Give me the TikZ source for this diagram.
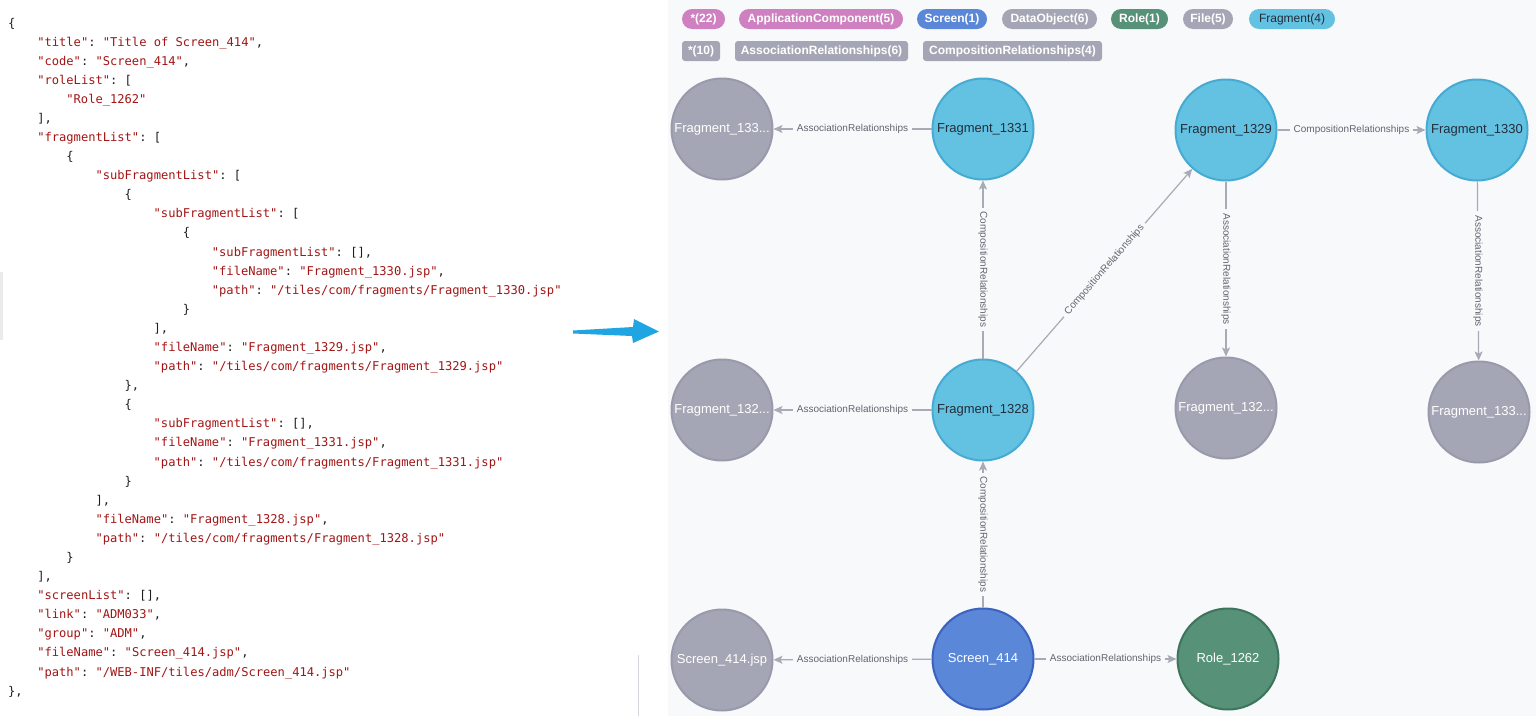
\documentclass[tikz,border=0pt]{standalone}
\usepackage{fontspec}
\setmainfont{Liberation Sans}
\setmonofont{DejaVu Sans Mono}
\usetikzlibrary{arrows.meta}

\definecolor{panelbg}{RGB}{248,249,251}
\definecolor{jsonred}{RGB}{163,21,21}
\definecolor{jsonpunct}{RGB}{30,30,30}
\definecolor{fragfill}{RGB}{99,194,226}
\definecolor{fragline}{RGB}{70,170,210}
\definecolor{fragtext}{RGB}{35,45,58}
\definecolor{filefill}{RGB}{165,166,181}
\definecolor{fileline}{RGB}{152,153,170}
\definecolor{scrfill}{RGB}{90,135,216}
\definecolor{scrline}{RGB}{58,98,190}
\definecolor{rolefill}{RGB}{87,145,120}
\definecolor{roleline}{RGB}{62,116,93}
\definecolor{pinkc}{RGB}{206,128,192}
\definecolor{edgec}{RGB}{168,170,182}
\definecolor{labelc}{RGB}{100,100,112}
\definecolor{bluearrow}{RGB}{30,165,226}
\definecolor{sepc}{RGB}{214,214,220}

\newcommand\rd[1]{\textcolor{jsonred}{#1}}
% one line of the JSON listing: indent level, line number, content
\newcommand\jline[3]{\node[jtext] (j#2) at ({8+29.1*#1},{27+19.09*(#2-1)}) {#3};}

\begin{document}
\begin{tikzpicture}[x=1pt,y=-1pt,
  jtext/.style={anchor=base west, inner sep=0, text=jsonpunct,
    font=\ttfamily\fontsize{12.1}{14}\selectfont},
  pill/.style={rectangle, rounded corners=10, minimum height=20, inner sep=0,
    text=white, font=\bfseries\fontsize{12}{14}\selectfont},
  tag/.style={rectangle, rounded corners=3, minimum height=20, inner sep=0,
    fill=filefill, text=white, font=\bfseries\fontsize{12}{14}\selectfont},
  gnode/.style={circle, minimum size=101, inner sep=0, line width=2,
    font=\fontsize{13}{15}\selectfont},
  frag/.style={gnode, fill=fragfill, draw=fragline, text=fragtext},
  filen/.style={gnode, fill=filefill, draw=fileline, text=white},
  scrn/.style={gnode, fill=scrfill, draw=scrline, text=white},
  rolen/.style={gnode, fill=rolefill, draw=roleline, text=white},
  edge/.style={draw=edgec, line width=1.2, -{Stealth[length=9pt,width=8pt,inset=2pt]}},
  elabel/.style={fill=panelbg, text=labelc, inner xsep=4, inner ysep=1,
    font=\fontsize{10}{12}\selectfont}
]
\useasboundingbox (0,0) rectangle (1540,718);
\fill[white] (0,0) rectangle (1540,718);
\fill[black!8] (0,272) rectangle (3,340);
\fill[panelbg] (668,0) rectangle (1536,716);
\draw[sepc, line width=1] (638,655) -- (638,716);

% JSON listing
\jline{0}{1}{\{}
\jline{1}{2}{\rd{"title"}: \rd{"Title of Screen\_414"},}
\jline{1}{3}{\rd{"code"}: \rd{"Screen\_414"},}
\jline{1}{4}{\rd{"roleList"}: [}
\jline{2}{5}{\rd{"Role\_1262"}}
\jline{1}{6}{],}
\jline{1}{7}{\rd{"fragmentList"}: [}
\jline{2}{8}{\{}
\jline{3}{9}{\rd{"subFragmentList"}: [}
\jline{4}{10}{\{}
\jline{5}{11}{\rd{"subFragmentList"}: [}
\jline{6}{12}{\{}
\jline{7}{13}{\rd{"subFragmentList"}: [],}
\jline{7}{14}{\rd{"fileName"}: \rd{"Fragment\_1330.jsp"},}
\jline{7}{15}{\rd{"path"}: \rd{"/tiles/com/fragments/Fragment\_1330.jsp"}}
\jline{6}{16}{\}}
\jline{5}{17}{],}
\jline{5}{18}{\rd{"fileName"}: \rd{"Fragment\_1329.jsp"},}
\jline{5}{19}{\rd{"path"}: \rd{"/tiles/com/fragments/Fragment\_1329.jsp"}}
\jline{4}{20}{\},}
\jline{4}{21}{\{}
\jline{5}{22}{\rd{"subFragmentList"}: [],}
\jline{5}{23}{\rd{"fileName"}: \rd{"Fragment\_1331.jsp"},}
\jline{5}{24}{\rd{"path"}: \rd{"/tiles/com/fragments/Fragment\_1331.jsp"}}
\jline{4}{25}{\}}
\jline{3}{26}{],}
\jline{3}{27}{\rd{"fileName"}: \rd{"Fragment\_1328.jsp"},}
\jline{3}{28}{\rd{"path"}: \rd{"/tiles/com/fragments/Fragment\_1328.jsp"}}
\jline{2}{29}{\}}
\jline{1}{30}{],}
\jline{1}{31}{\rd{"screenList"}: [],}
\jline{1}{32}{\rd{"link"}: \rd{"ADM033"},}
\jline{1}{33}{\rd{"group"}: \rd{"ADM"},}
\jline{1}{34}{\rd{"fileName"}: \rd{"Screen\_414.jsp"},}
\jline{1}{35}{\rd{"path"}: \rd{"/WEB-INF/tiles/adm/Screen\_414.jsp"}}
\jline{0}{36}{\},}

% blue arrow between listing and graph
\fill[bluearrow] (573,330.5) -- (633,327) -- (634,319) -- (659,331.5)
  -- (633,343) -- (632,336) -- (573,333.5) -- cycle;

% legend, first row
\node[pill, fill=pinkc, minimum width=43] (lall) at (703.5,19) {*(22)};
\node[pill, fill=pinkc, minimum width=164] (lapp) at (821,19) {ApplicationComponent(5)};
\node[pill, fill=scrfill, minimum width=70] (lscr) at (952,19) {Screen(1)};
\node[pill, fill=filefill, minimum width=95] (ldata) at (1049.5,19) {DataObject(6)};
\node[pill, fill=rolefill, minimum width=57] (lrole) at (1139.5,19) {Role(1)};
\node[pill, fill=filefill, minimum width=50] (lfile) at (1208,19) {File(5)};
\node[pill, fill=fragfill, minimum width=86, text=fragtext,
  font=\fontsize{12}{14}\selectfont] (lfrag) at (1292,19) {Fragment(4)};

% legend, second row
\node[tag, minimum width=38] (rall) at (701,51) {*(10)};
\node[tag, minimum width=173] (rassoc) at (821.5,51) {AssociationRelationships(6)};
\node[tag, minimum width=179] (rcomp) at (1012.5,51) {CompositionRelationships(4)};

% graph nodes
\node[filen] (g1331) at (722,129) {Fragment\_133...};
\node[frag]  (f1331) at (983,129) {Fragment\_1331};
\node[frag]  (f1329) at (1226,130) {Fragment\_1329};
\node[frag]  (f1330) at (1477,130) {Fragment\_1330};
\node[filen] (g1328) at (722,410) {Fragment\_132...};
\node[frag]  (f1328) at (983,410) {Fragment\_1328};
\node[filen] (g1329) at (1226,408) {Fragment\_132...};
\node[filen] (g1330) at (1479,412) {Fragment\_133...};
\node[filen] (sjsp)  at (722,660) {Screen\_414.jsp};
\node[scrn]  (s414)  at (983,659) {Screen\_414};
\node[rolen] (r1262) at (1228,659) {Role\_1262};

% relationships
\draw[edge] (f1331) -- node[elabel] {AssociationRelationships} (g1331);
\draw[edge] (f1328) -- node[elabel] {AssociationRelationships} (g1328);
\draw[edge] (f1328) -- node[elabel, rotate=-90] {CompositionRelationships} (f1331);
\draw[edge] (f1328) -- node[elabel, sloped] {CompositionRelationships} (f1329);
\draw[edge] (f1329) -- node[elabel] {CompositionRelationships} (f1330);
\draw[edge] (f1329) -- node[elabel, rotate=-90] {AssociationRelationships} (g1329);
\draw[edge] (f1330) -- node[elabel, rotate=-90] {AssociationRelationships} (g1330);
\draw[edge] (s414) -- node[elabel, rotate=-90] {CompositionRelationships} (f1328);
\draw[edge] (s414) -- node[elabel] {AssociationRelationships} (sjsp);
\draw[edge] (s414) -- node[elabel] {AssociationRelationships} (r1262);
\end{tikzpicture}
\end{document}
